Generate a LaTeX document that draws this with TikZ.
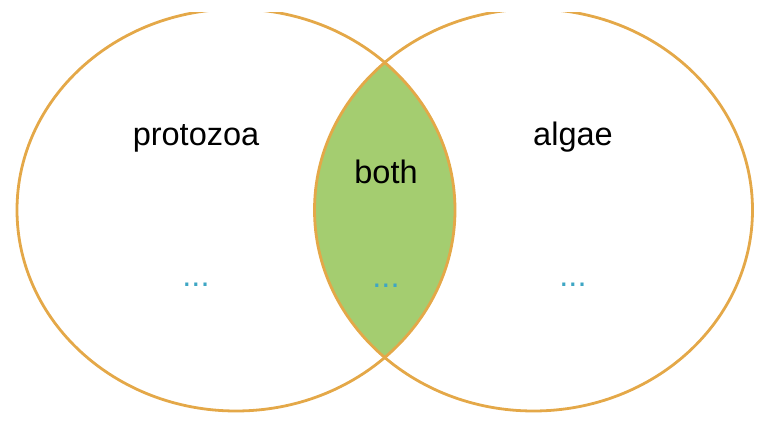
\documentclass[tikz,border=0pt]{standalone}
\usepackage{fontspec}
\setmainfont{Liberation Sans}
\usepackage{xcolor}
\definecolor{ringgold}{RGB}{228,168,72}
\definecolor{lensgreen}{RGB}{164,205,112}
\definecolor{dotteal}{RGB}{62,166,196}

\begin{document}
\begin{tikzpicture}[x=1pt, y=1pt, line cap=round, line join=round,
  ring/.style={draw=ringgold, line width=2.8pt},
  setlabel/.style={anchor=base, inner sep=0pt, font=\fontsize{32.5}{36}\selectfont},
  dotlabel/.style={anchor=base, inner sep=0pt, text=dotteal, font=\fontsize{32.5}{36}\selectfont}]

\useasboundingbox (0,0) rectangle (765,421);
\clip (0,0) rectangle (765,408);

%==================================================
% Centres of the two sets
%==================================================
\coordinate (L) at (236,211);
\coordinate (R) at (533.5,211);

%==================================================
% Shared part: green lens
%==================================================
\begin{scope}
  \clip (L) ellipse (219 and 201);
  \fill[lensgreen] (R) ellipse (219 and 201);
\end{scope}

% Outlines
\foreach \c in {L,R}{
  \draw[ring] (\c) ellipse (219 and 201);
}

%==================================================
% Labels
%==================================================
\node[setlabel] (protozoa) at (196,276) {protozoa};
\node[setlabel] (both)     at (386,238) {both};
\node[setlabel] (algae)    at (573,275) {algae};

% Placeholder dots
\node[dotlabel] (dotsL) at (196,135) {...};
\node[dotlabel] (dotsM) at (386,134) {...};
\node[dotlabel] (dotsR) at (573,135) {...};

\end{tikzpicture}
\end{document}
